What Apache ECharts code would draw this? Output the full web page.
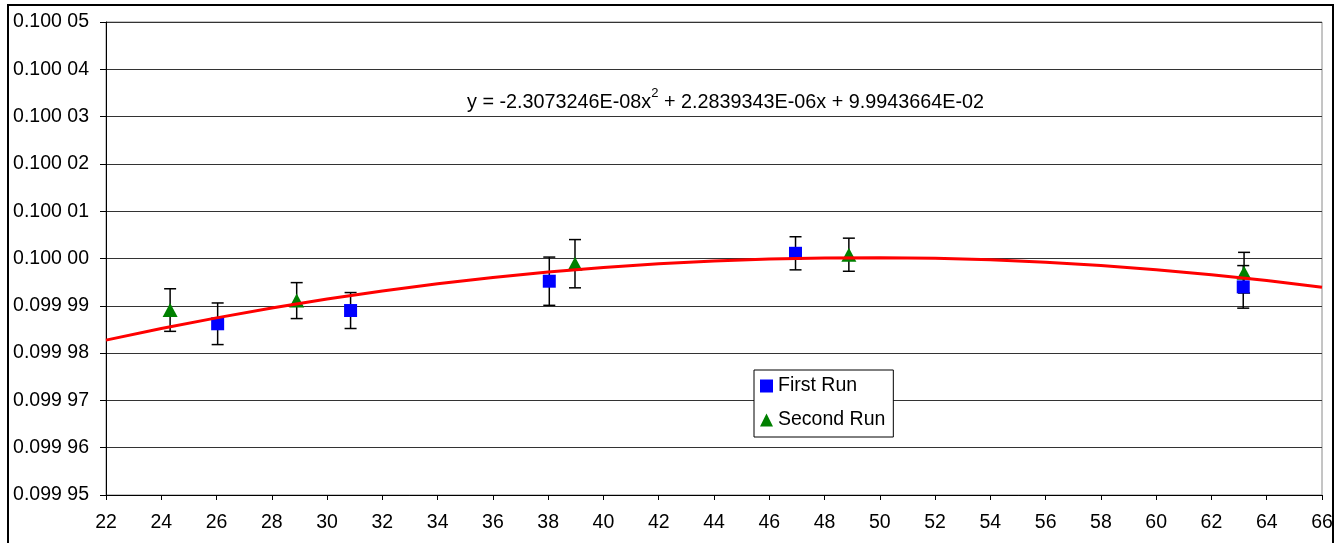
<!DOCTYPE html>
<html>
<head>
<meta charset="utf-8">
<script src="https://cdn.jsdelivr.net/npm/echarts@6/dist/echarts.min.js"></script>
<style>
  html, body { margin: 0; padding: 0; background: #fff; }
  #chart { width: 1340px; height: 543px; }
</style>
</head>
<body>
<div id="chart"></div>
<script>
// ---- data ----
const firstRunX   = [26.04, 30.85, 38.04, 46.95, 63.15];
const firstRunY   = [0.0999862, 0.0999890, 0.0999952, 0.1000011, 0.0999940];
const firstRunErr = [0.0000044, 0.0000038, 0.0000051, 0.0000035, 0.0000045];

const secondRunX   = [24.32, 28.90, 38.97, 48.88, 63.18];
const secondRunY   = [0.0999891, 0.0999911, 0.0999989, 0.1000008, 0.0999970];
const secondRunErr = [0.0000045, 0.0000038, 0.0000051, 0.0000035, 0.0000043];

const trendX = [22, 24, 26, 28, 30, 32, 34, 36, 38, 40, 42, 44, 46, 48, 50, 52, 54, 56, 58, 60, 62, 64, 66];
const trendY = [0.09998274, 0.09998519, 0.09998745, 0.09998952, 0.09999142, 0.09999312,
                0.09999465, 0.09999598, 0.09999714, 0.09999810, 0.09999889, 0.09999949,
                0.09999990, 0.10000013, 0.10000018, 0.10000004, 0.09999971, 0.09999921,
                0.09999851, 0.09999764, 0.09999657, 0.09999533, 0.09999390];

const equationText = ['y = -2.3073246E-08x', '2', ' + 2.2839343E-06x + 9.9943664E-02'];
const seriesNames = ['First Run', 'Second Run'];

// ---- build ----
const zip = (xs, ys) => xs.map((x, i) => [x, ys[i]]);
const zip3 = (xs, ys, es) => xs.map((x, i) => [x, ys[i], es[i]]);

function errorBarRender(params, api) {
  const x = api.value(0), y = api.value(1), e = api.value(2);
  const top = api.coord([x, y + e]);
  const bot = api.coord([x, y - e]);
  const hw = 6;
  const style = { stroke: '#000', lineWidth: 1.5 };
  return {
    type: 'group',
    children: [
      { type: 'line', shape: { x1: top[0], y1: top[1], x2: bot[0], y2: bot[1] }, style },
      { type: 'line', shape: { x1: top[0] - hw, y1: top[1], x2: top[0] + hw, y2: top[1] }, style },
      { type: 'line', shape: { x1: bot[0] - hw, y1: bot[1], x2: bot[0] + hw, y2: bot[1] }, style }
    ]
  };
}

const FONT = '"Liberation Sans", Arial, sans-serif';
const chart = echarts.init(document.getElementById('chart'), null, { renderer: 'canvas' });

chart.setOption({
  animation: false,
  backgroundColor: '#fff',
  grid: { left: 106, right: 18, top: 22, bottom: 48, show: true, borderColor: '#8a8a8a', borderWidth: 1, backgroundColor: 'transparent' },
  xAxis: {
    type: 'value', min: 22, max: 66, interval: 2,
    axisLine: { show: true, onZero: false, lineStyle: { color: '#000', width: 1 } },
    axisTick: { show: true, length: 5, lineStyle: { color: '#000' } },
    axisLabel: { color: '#000', fontSize: 19.5, fontFamily: FONT, margin: 18 },
    splitLine: { show: false }
  },
  yAxis: {
    type: 'value', min: 0.09995, max: 0.10005, interval: 0.00001,
    axisLine: { show: true, lineStyle: { color: '#000', width: 1 } },
    axisTick: { show: true, length: 6, lineStyle: { color: '#000' } },
    axisLabel: {
      color: '#000', fontSize: 19.5, fontFamily: FONT, margin: 17,
      formatter: v => { const s = v.toFixed(5); return s.slice(0, 5) + ' ' + s.slice(5); }
    },
    splitLine: { show: true, lineStyle: { color: '#333', width: 1 } }
  },
  legend: {
    left: 754, top: 370, orient: 'vertical',
    padding: [6, 8, 7, 6], itemGap: 14, itemWidth: 13, itemHeight: 13,
    borderColor: '#000', borderWidth: 1, backgroundColor: '#fff',
    textStyle: { color: '#000', fontSize: 19.5, fontFamily: FONT },
    data: [{ name: seriesNames[0], icon: 'rect' }, { name: seriesNames[1], icon: 'triangle' }]
  },
  graphic: [
    {
      type: 'rect', silent: true,
      shape: { x: 8, y: 5, width: 1325, height: 600 },
      style: { fill: 'none', stroke: '#000', lineWidth: 2 }
    },
    {
      type: 'text', left: 467, top: 87, silent: true, z: 10,
      style: {
        text: '{a|' + equationText[0] + '}{s|' + equationText[1] + '}{a|' + equationText[2] + '}',
        rich: {
          a: { fontSize: 19.8, fontFamily: FONT, fill: '#000', lineHeight: 26, verticalAlign: 'bottom' },
          s: { fontSize: 13, fontFamily: FONT, fill: '#000', lineHeight: 26, verticalAlign: 'top' }
        }
      }
    }
  ],
  series: [
    {
      name: 'errFirst', type: 'custom', renderItem: errorBarRender, z: 2,
      data: zip3(firstRunX, firstRunY, firstRunErr), encode: { x: 0, y: 1 }, silent: true
    },
    {
      name: 'errSecond', type: 'custom', renderItem: errorBarRender, z: 2,
      data: zip3(secondRunX, secondRunY, secondRunErr), encode: { x: 0, y: 1 }, silent: true
    },
    {
      name: seriesNames[0], type: 'scatter', symbol: 'rect', symbolSize: 13, z: 3,
      itemStyle: { color: '#0000ff', opacity: 1 },
      data: zip(firstRunX, firstRunY)
    },
    {
      name: seriesNames[1], type: 'scatter', symbol: 'triangle', symbolSize: [15, 14], z: 3,
      itemStyle: { color: '#008000', opacity: 1 },
      data: zip(secondRunX, secondRunY)
    },
    {
      name: 'trend', type: 'line', z: 4, symbol: 'none', smooth: false,
      lineStyle: { color: '#ff0000', width: 3 },
      data: zip(trendX, trendY)
    }
  ]
});
</script>
</body>
</html>
